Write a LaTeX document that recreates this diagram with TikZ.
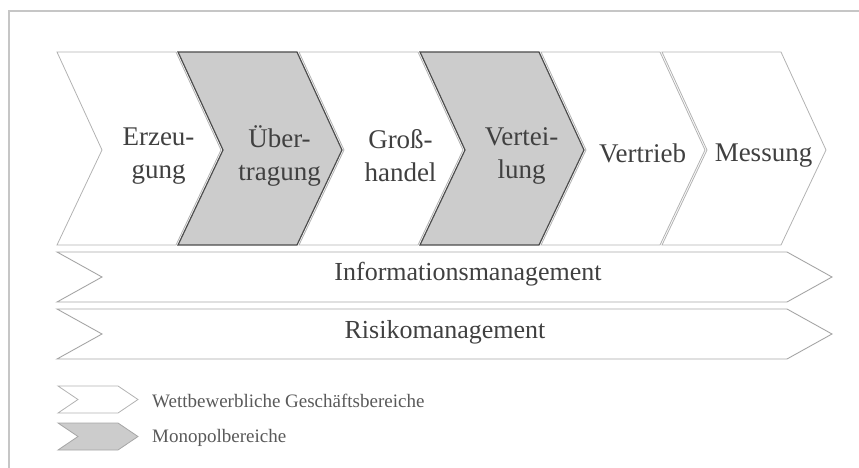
\documentclass[tikz,border=0pt]{standalone}
\usepackage{fontspec}
\setmainfont{Liberation Serif}

\tikzset{
  frei/.style={draw=gray!60, line width=0.8pt},
  mono/.style={fill=gray!40, draw=black!70, line width=1.2pt},
  balken/.style={draw=gray!70, line width=0.9pt},
  schrift/.style={text=black!75, align=center, font=\fontsize{27}{33}\selectfont},
  legende/.style={text=black!65, anchor=west, inner sep=0pt, font=\fontsize{19}{21}\selectfont},
}

\begin{document}
\begin{tikzpicture}[x=1pt,y=-1pt]
\useasboundingbox (0,0) rectangle (859,468);

% Rahmen
\draw[gray!45, line width=1.5pt] (9,468) -- (9,11) -- (859,11);

% Wertschoepfungskette
\foreach \i/\txt/\art in {0/{Erzeu-\\gung}/frei, 1/{Über-\\tragung}/mono, 2/{Groß-\\handel}/frei,
                          3/{Vertei-\\lung}/mono, 4/{Vertrieb\vphantom{g}}/frei, 5/Messung/frei}{
  \pgfmathsetmacro{\lx}{57+121*\i}
  \pgfmathsetmacro{\rx}{\lx+119}
  \draw[\art] (\lx,52) -- (\rx,52) -- (\rx+45,150) -- (\rx,245) -- (\lx,245) -- (\lx+45,150) -- cycle;
  \node[schrift] (stufe\i) at ({(\lx+\rx)/2+42},156) {\txt};
}

% Querschnittsfunktionen
\draw[balken] (57,252) -- (787,252) -- (832,277) -- (787,302) -- (57,302) -- (102,277) -- cycle;
\node[schrift, font=\fontsize{26}{30}\selectfont] (info) at (468,274) {Informationsmanagement};

\draw[balken] (57,309) -- (787,309) -- (832,334) -- (787,359) -- (57,359) -- (102,334) -- cycle;
\node[schrift, font=\fontsize{26}{30}\selectfont] (risiko) at (445,332) {Risikomanagement};

% Legende
\draw[frei] (58,386) -- (118,386) -- (138,399.5) -- (118,413) -- (58,413) -- (78,399.5) -- cycle;
\node[legende] (wett) at (152,401) {Wettbewerbliche Geschäftsbereiche};

\draw[mono, line width=0.8pt, draw=gray!70] (58,423) -- (118,423) -- (138,436.5) -- (118,450) -- (58,450) -- (78,436.5) -- cycle;
\node[legende] (monopol) at (152,438) {Monopolbereiche};

\end{tikzpicture}
\end{document}
